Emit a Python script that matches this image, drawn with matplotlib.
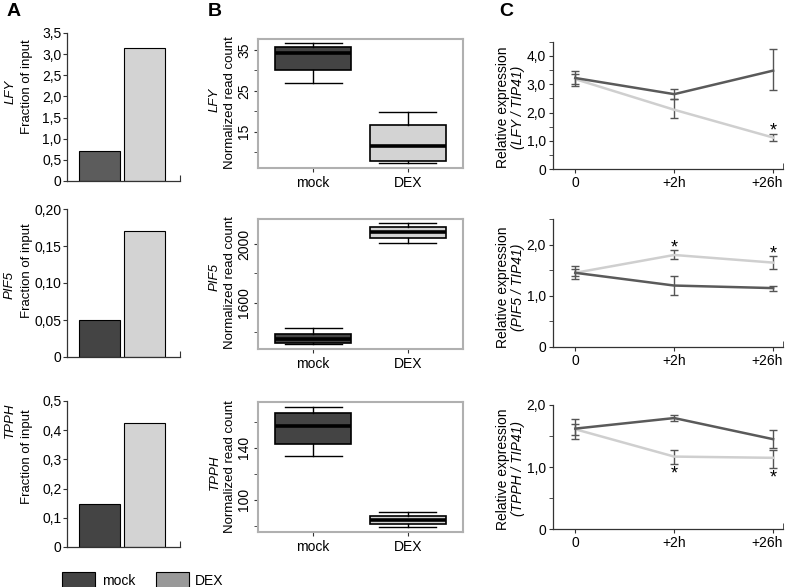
import numpy as np
import matplotlib
matplotlib.use("Agg")
import matplotlib.pyplot as plt
from matplotlib.patches import Patch
from matplotlib.ticker import MultipleLocator, FuncFormatter

plt.rcParams['font.family'] = ['Liberation Sans', 'DejaVu Sans']

# --- data ---
genes = ["LFY", "PIF5", "TPPH"]
conditions = ["mock", "DEX"]

# A: ChIP, fraction of input
chip_mock = [0.72, 0.05, 0.148]
chip_dex = [3.15, 0.17, 0.425]

# B: RNA-seq boxplots (low whisker, q1, median, q3, high whisker)
lfy_mock_box = [27.0, 30.1, 34.3, 35.7, 36.7]
lfy_dex_box = [7.4, 7.9, 11.4, 16.7, 19.7]
pif5_mock_box = [1316, 1325, 1350, 1382, 1423]
pif5_dex_box = [2007, 2045, 2086, 2116, 2144]
tpph_mock_box = [133.7, 142.7, 156.7, 166.4, 171.0]
tpph_dex_box = [79.5, 81.5, 84.6, 87.9, 90.7]

# C: qPCR time course
timepoints = ["0", "+2h", "+26h"]
lfy_mock_mean = [3.22, 2.65, 3.48]
lfy_mock_lo = [2.95, 2.47, 2.80]
lfy_mock_hi = [3.48, 2.83, 4.24]
lfy_dex_mean = [3.18, 2.10, 1.12]
lfy_dex_lo = [3.00, 1.80, 1.01]
lfy_dex_hi = [3.36, 2.47, 1.24]

pif5_mock_mean = [1.45, 1.20, 1.15]
pif5_mock_lo = [1.33, 1.01, 1.10]
pif5_mock_hi = [1.59, 1.39, 1.19]
pif5_dex_mean = [1.45, 1.80, 1.65]
pif5_dex_lo = [1.38, 1.72, 1.53]
pif5_dex_hi = [1.52, 1.90, 1.78]

tpph_mock_mean = [1.62, 1.79, 1.45]
tpph_mock_lo = [1.46, 1.74, 1.31]
tpph_mock_hi = [1.77, 1.84, 1.60]
tpph_dex_mean = [1.61, 1.17, 1.15]
tpph_dex_lo = [1.52, 1.05, 0.98]
tpph_dex_hi = [1.70, 1.28, 1.28]

# significance stars: (timepoint index, y)
lfy_stars = [(2, 1.47)]
pif5_stars = [(1, 2.02), (2, 1.90)]
tpph_stars = [(1, 0.95), (2, 0.89)]

W, H = 787, 587
DARK = "#444444"
LIGHT = "#d3d3d3"
AXC = "#333333"
FS = 9.5

fig = plt.figure(figsize=(W / 100, H / 100), dpi=100)


def px_axes(x0, y0, x1, y1):
    return fig.add_axes([x0 / W, 1 - y1 / H, (x1 - x0) / W, (y1 - y0) / H])


def ftext(x, y, s, size=FS, **kw):
    fig.text(x / W, 1 - y / H, s, ha="center", va="center", rotation=90, fontsize=size, **kw)


def comma(dec):
    def f(v, pos):
        if abs(v) < 1e-9:
            return "0"
        return f"{v:.{dec}f}".replace(".", ",")
    return FuncFormatter(f)


# --- Panel A ---
a_boxes = [(67, 33, 180, 181), (67, 209, 180, 357), (67, 401, 180, 547)]
a_ylims = [(3.5, 0.5, 1), (0.20, 0.05, 2), (0.5, 0.1, 1)]
a_mock_colors = ["#5c5c5c", DARK, DARK]
xlo, xhi = -0.72, 1.79
for i, g in enumerate(genes):
    ax = px_axes(*a_boxes[i])
    top, step, dec = a_ylims[i]
    ax.bar([0, 1], [chip_mock[i], chip_dex[i]], width=0.91,
           color=[a_mock_colors[i], LIGHT], edgecolor="black", linewidth=0.8)
    ax.set_xlim(xlo, xhi)
    ax.set_ylim(0, top)
    ax.yaxis.set_major_locator(MultipleLocator(step))
    ax.yaxis.set_major_formatter(comma(dec))
    for s in ["top", "right"]:
        ax.spines[s].set_visible(False)
    for s in ["left", "bottom"]:
        ax.spines[s].set_color(AXC)
        ax.spines[s].set_linewidth(0.9)
    ax.set_xticks([xhi])
    ax.set_xticklabels([""])
    ax.tick_params(axis="x", direction="in", length=4, color=AXC)
    ax.tick_params(axis="y", direction="out", length=3, color=AXC, labelsize=FS + 0.5, pad=1)

ftext(11, 92, "LFY", style="italic")
ftext(27, 87, "Fraction of input")
ftext(10, 285, "PIF5", style="italic")
ftext(27, 271, "Fraction of input")
ftext(10, 420, "TPPH", style="italic")
ftext(27, 457, "Fraction of input")

fig.legend(handles=[Patch(fc=DARK, ec="black", lw=0.8), Patch(fc="#999999", ec="black", lw=0.8)],
           labels=conditions, loc="upper left", bbox_to_anchor=(62 / W, 1 - 572 / H),
           frameon=False, ncol=2, handlelength=2.4, handleheight=1.6, handletextpad=0.45,
           columnspacing=1.5, borderpad=0, borderaxespad=0, fontsize=FS + 0.5)

# --- Panel B ---
b_boxes = [(258, 39, 463, 168), (258, 219, 463, 349), (258, 402, 463, 532)]
b_data = [(lfy_mock_box, lfy_dex_box), (pif5_mock_box, pif5_dex_box), (tpph_mock_box, tpph_dex_box)]
b_ylims = [(6.1, 37.7), (1282, 2173), (75.4, 175)]
b_major = [[15, 25, 35], [1600, 2000], [100, 140]]
b_minor = [[10, 20, 30], [1400, 1800], [80, 120, 160]]
for i, g in enumerate(genes):
    ax = px_axes(*b_boxes[i])
    stats = []
    for j, d in enumerate(b_data[i]):
        stats.append(dict(whislo=d[0], q1=d[1], med=d[2], q3=d[3], whishi=d[4],
                          fliers=[], label=conditions[j]))
    bp = ax.bxp(stats, positions=[1, 2], widths=0.8, patch_artist=True,
                showfliers=False, capwidths=0.6,
                boxprops=dict(linewidth=1.2, edgecolor="black"),
                medianprops=dict(color="black", linewidth=2.6),
                whiskerprops=dict(color="black", linewidth=1.0),
                capprops=dict(color="black", linewidth=1.0))
    for patch, c in zip(bp["boxes"], [DARK, LIGHT]):
        patch.set_facecolor(c)
    ax.set_xlim(0.42, 2.58)
    ax.set_ylim(*b_ylims[i])
    ax.set_yticks(b_major[i])
    ax.set_yticks(b_minor[i], minor=True)
    for s in ax.spines.values():
        s.set_color("#b0b0b0")
        s.set_linewidth(1.5)
    ax.tick_params(axis="y", which="both", direction="out", length=3, color=AXC,
                   labelsize=FS + 0.5, labelrotation=90, pad=2)
    for lab in ax.get_yticklabels():
        lab.set_va("center")
    ax.tick_params(axis="x", direction="out", length=3, color=AXC, labelsize=FS + 0.5, pad=3)

ftext(215, 100, "LFY", style="italic")
ftext(230, 103, "Normalized read count")
ftext(215, 277, "PIF5", style="italic")
ftext(230, 283, "Normalized read count")
ftext(215, 472, "TPPH", style="italic")
ftext(230, 467, "Normalized read count")

# --- Panel C ---
c_boxes = [(553, 41.7, 783, 169.3), (553, 219.3, 783, 346.7), (553, 405, 783, 529.3)]
c_tops = [4.5, 2.5, 2.0]
c_series = [
    (lfy_mock_mean, lfy_mock_lo, lfy_mock_hi, lfy_dex_mean, lfy_dex_lo, lfy_dex_hi, lfy_stars),
    (pif5_mock_mean, pif5_mock_lo, pif5_mock_hi, pif5_dex_mean, pif5_dex_lo, pif5_dex_hi, pif5_stars),
    (tpph_mock_mean, tpph_mock_lo, tpph_mock_hi, tpph_dex_mean, tpph_dex_lo, tpph_dex_hi, tpph_stars),
]
c_ylab_y = [107, 287, 469]
cx_lo, cx_hi = -0.225, 2.1
x = np.arange(len(timepoints))
for i, g in enumerate(genes):
    ax = px_axes(*c_boxes[i])
    mm, ml, mh, dm, dl, dh, stars = c_series[i]
    ax.errorbar(x, dm, yerr=[np.subtract(dm, dl), np.subtract(dh, dm)], color="#cfcfcf",
                lw=1.8, ecolor="#555555", elinewidth=1.0, capsize=3, capthick=1.0, zorder=2)
    ax.errorbar(x, mm, yerr=[np.subtract(mm, ml), np.subtract(mh, mm)], color="#5a5a5a",
                lw=1.8, ecolor="#555555", elinewidth=1.0, capsize=3, capthick=1.0, zorder=3)
    for (ti, sy) in stars:
        ax.annotate("*", (ti, sy), xytext=(0, -6), textcoords="offset points",
                    ha="center", va="baseline", fontsize=13)
    ax.set_xlim(cx_lo, cx_hi)
    ax.set_ylim(0, c_tops[i])
    ax.yaxis.set_major_locator(MultipleLocator(1.0))
    ax.yaxis.set_minor_locator(MultipleLocator(0.5))
    ax.yaxis.set_major_formatter(comma(1))
    ax.set_xticks(x)
    # last label sits a little left of its tick in the original, keep it inside the figure
    ax.set_xticklabels(timepoints[:-1] + [""])
    ax.annotate(timepoints[-1], (x[-1], 0), xycoords=("data", "axes fraction"),
                xytext=(-4.5, -5), textcoords="offset points", ha="center", va="top",
                fontsize=FS + 0.5)
    ax.set_xticks([cx_hi], minor=True)
    for s in ["top", "right"]:
        ax.spines[s].set_visible(False)
    for s in ["left", "bottom"]:
        ax.spines[s].set_color(AXC)
        ax.spines[s].set_linewidth(0.9)
    ax.tick_params(axis="both", which="major", direction="out", length=3, color=AXC,
                   labelsize=FS + 0.5, pad=2)
    ax.tick_params(axis="y", which="minor", direction="out", length=3, color=AXC)
    ax.tick_params(axis="x", which="minor", direction="in", length=4, color=AXC)
    ftext(503, c_ylab_y[i], "Relative expression", size=FS + 0.5)
    ftext(518, c_ylab_y[i], f"({g} / TIP41)", size=FS + 0.5, style="italic")

# panel letters
for lx, letter in [(14, "A"), (215, "B"), (506, "C")]:
    fig.text(lx / W, 1 - 12 / H, letter, ha="center", va="center", fontsize=14, fontweight="bold")

fig.savefig("out.png", dpi=100)
